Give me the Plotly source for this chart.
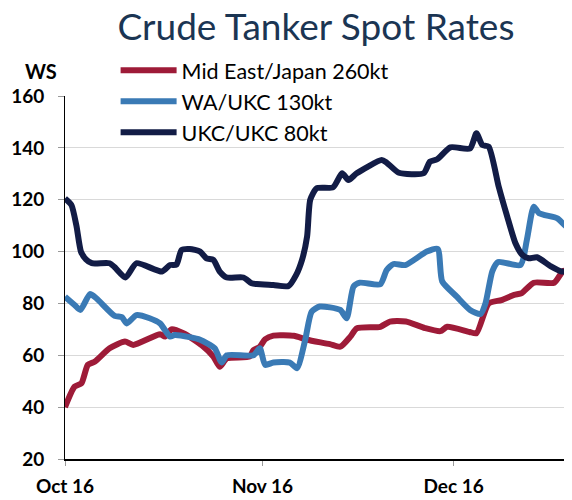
import plotly.graph_objects as go

# ---- data (WS points) ----
me_dates = ["2016-10-01", "2016-10-02 12:00", "2016-10-03 14:00", "2016-10-04 14:00", "2016-10-05 17:00",
            "2016-10-08", "2016-10-10 10:00", "2016-10-11 17:00", "2016-10-15 22:00", "2016-10-16 17:00",
            "2016-10-17 17:00", "2016-10-19 14:00", "2016-10-22 12:00", "2016-10-24 07:00", "2016-10-25 07:00",
            "2016-10-26 10:00", "2016-10-30", "2016-10-30 14:00", "2016-10-31 14:00", "2016-11-01 10:00",
            "2016-11-02 17:00", "2016-11-05 22:00", "2016-11-08", "2016-11-11 14:00", "2016-11-13 05:00",
            "2016-11-14 19:00", "2016-11-15 19:00", "2016-11-19 12:00", "2016-11-21", "2016-11-23 12:00",
            "2016-11-26 12:00", "2016-11-28 22:00", "2016-11-30", "2016-12-03 12:00", "2016-12-04 14:00",
            "2016-12-06 12:00", "2016-12-08 12:00", "2016-12-10 12:00", "2016-12-11 17:00", "2016-12-13 14:00",
            "2016-12-16 19:00", "2016-12-18 05:00", "2016-12-19 14:00"]
me_ws = [40, 47.9, 49.2, 56.3, 57.6,
         62.7, 65.3, 64, 68.1, 67.2,
         70, 68.5, 63.8, 59.5, 55.6,
         58.8, 59.5, 62, 63.3, 66.2,
         67.6, 67.5, 66, 64.3, 63.3,
         67.2, 70.4, 71, 73, 73,
         70.5, 69.3, 71, 69, 68.5,
         80, 81.3, 83.3, 84, 88,
         88, 92.5, 92.3]

wa_dates = ["2016-10-01", "2016-10-02 12:00", "2016-10-03 10:00", "2016-10-04 22:00", "2016-10-05 22:00",
            "2016-10-08 19:00", "2016-10-09 22:00", "2016-10-10 17:00", "2016-10-12 05:00", "2016-10-14 07:00",
            "2016-10-15 22:00", "2016-10-17 12:00", "2016-10-18 05:00", "2016-10-20 14:00", "2016-10-22 05:00",
            "2016-10-24 12:00", "2016-10-25 14:00", "2016-10-26 10:00", "2016-10-30 14:00", "2016-10-31 14:00",
            "2016-11-01 10:00", "2016-11-02 17:00", "2016-11-05 07:00", "2016-11-06 10:00", "2016-11-07 17:00",
            "2016-11-08 17:00", "2016-11-10", "2016-11-13 05:00", "2016-11-14 05:00", "2016-11-15 07:00",
            "2016-11-16 07:00", "2016-11-19 12:00", "2016-11-20 12:00", "2016-11-21 14:00", "2016-11-23 10:00",
            "2016-11-26 19:00", "2016-11-28 12:00", "2016-11-29 05:00", "2016-12-01 12:00", "2016-12-03 14:00",
            "2016-12-05 05:00", "2016-12-06", "2016-12-07 02:00", "2016-12-08", "2016-12-11 12:00",
            "2016-12-12 12:00", "2016-12-13 14:00", "2016-12-14 10:00", "2016-12-17 07:00", "2016-12-18 14:00",
            "2016-12-19 14:00"]
wa_ws = [82.6, 79.4, 77.5, 83.6, 82,
         75.2, 74.7, 72.3, 75.5, 74.3,
         72.3, 67.2, 67.8, 67, 66,
         62.7, 57.2, 60, 60, 62.7,
         56.3, 57.2, 57.2, 55, 66,
         76.8, 78.8, 77.5, 74.3, 86.5,
         88, 87.4, 92.9, 95.2, 94.8,
         100, 101, 88.5, 82.6, 77.5,
         75.9, 80, 92.5, 96, 94.8,
         104.5, 117.3, 114.8, 112.8, 109.9,
         109.9]

ukc_dates = ["2016-10-01", "2016-10-02", "2016-10-02 19:00", "2016-10-03 12:00", "2016-10-04 07:00",
             "2016-10-05 05:00", "2016-10-08", "2016-10-08 19:00", "2016-10-10 12:00", "2016-10-12 05:00",
             "2016-10-16 05:00", "2016-10-17 12:00", "2016-10-18 12:00", "2016-10-19 07:00", "2016-10-20 14:00",
             "2016-10-22 05:00", "2016-10-23 05:00", "2016-10-24 07:00", "2016-10-25 07:00", "2016-10-26 10:00",
             "2016-10-29", "2016-10-30 07:00", "2016-10-31 02:00", "2016-11-02 17:00", "2016-11-05 02:00",
             "2016-11-06 07:00", "2016-11-07 05:00", "2016-11-08", "2016-11-08 12:00", "2016-11-09 12:00",
             "2016-11-12 02:00", "2016-11-13 12:00", "2016-11-14 12:00", "2016-11-15 19:00", "2016-11-19 17:00",
             "2016-11-20 12:00", "2016-11-22 10:00", "2016-11-26 07:00", "2016-11-27 07:00", "2016-11-28 10:00",
             "2016-11-30 12:00", "2016-12-03 14:00", "2016-12-04 14:00", "2016-12-05 12:00", "2016-12-06 12:00",
             "2016-12-08 02:00", "2016-12-09 10:00", "2016-12-10 17:00", "2016-12-11 19:00", "2016-12-12 19:00",
             "2016-12-14 02:00", "2016-12-16 05:00", "2016-12-18", "2016-12-19 14:00"]
ukc_ws = [120.5, 118, 110, 100, 97,
          95.5, 95.5, 94, 90, 95.5,
          92.3, 94.8, 95, 100.6, 101,
          100, 97.4, 96.8, 92.3, 90,
          90, 87.8, 87.5, 87.1, 86.7,
          91, 96.8, 105.8, 120, 124.4,
          124.8, 130.2, 127.6, 130.2, 135.3,
          134.3, 130.4, 130.2, 134.7, 135.6,
          140.2, 139.8, 145.6, 141.1, 140.5,
          125, 113.5, 103.2, 98.7, 97.4,
          97.8, 94.4, 92.3, 92.6]

series_names = ["Mid East/Japan 260kt", "WA/UKC 130kt", "UKC/UKC 80kt"]
series_colors = ["#9e1b38", "#3a7ab5", "#121c46"]
x_range = ["2016-10-01", "2016-12-19 14:00"]
x_ticks = ["2016-10-01", "2016-11-01", "2016-12-01"]
y_ticks = [20, 40, 60, 80, 100, 120, 140, 160]

FONT = "Lato"

fig = go.Figure()
for i, (xs, ys) in enumerate([(me_dates, me_ws), (wa_dates, wa_ws), (ukc_dates, ukc_ws)]):
    fig.add_trace(go.Scatter(
        x=xs, y=ys, mode="lines", name=series_names[i], legendgroup=f"g{i}",
        line=dict(color=series_colors[i], width=6, shape="spline", smoothing=0.6),
        cliponaxis=True,
    ))

# page body has an 8px margin, so the figure is sized to fit the 572x500 window
fig.update_layout(
    width=564, height=492,
    margin=dict(l=57, r=0, t=88, b=41, autoexpand=False),
    paper_bgcolor="white", plot_bgcolor="white",
    font=dict(family=FONT, color="#000000"),
    title=dict(text="Crude Tanker Spot Rates", xref="container", yref="container",
               x=0.546, y=0.962, xanchor="center", yanchor="middle",
               font=dict(family=FONT, size=37, color="#1b3553")),
    showlegend=True,
    legend=dict(x=0.0998, y=1.127, xanchor="left", yanchor="top",
                font=dict(family=FONT, size=21.5, color="#000000"),
                bgcolor="rgba(0,0,0,0)", itemwidth=56, tracegroupgap=6,
                traceorder="normal"),
    annotations=[dict(text="WS", xref="paper", yref="paper", x=-0.0473, y=1.0689,
                      xanchor="center", yanchor="middle", showarrow=False,
                      font=dict(family=FONT, size=20, color="#000000", weight="bold"))],
)

fig.update_xaxes(
    type="date", range=x_range, tickvals=x_ticks, tickformat="%b %y",
    showgrid=False, showline=True, linecolor="#000000", linewidth=1.5,
    ticks="outside", ticklen=5, tickcolor="#999999", tickwidth=1,
    tickfont=dict(family=FONT, size=19, color="#000000", weight="bold"),
    ticklabelstandoff=4, zeroline=False, automargin=False,
)
fig.update_yaxes(
    range=[20, 160], tickvals=y_ticks, showgrid=True, gridcolor="#d9d9d9", gridwidth=1.3,
    showline=True, linecolor="#000000", linewidth=1,
    ticks="outside", ticklen=6, tickcolor="#999999", tickwidth=1,
    tickfont=dict(family=FONT, size=19, color="#000000", weight="bold"),
    ticklabelstandoff=10, zeroline=False, automargin=False,
)

fig.write_html("out.html")
